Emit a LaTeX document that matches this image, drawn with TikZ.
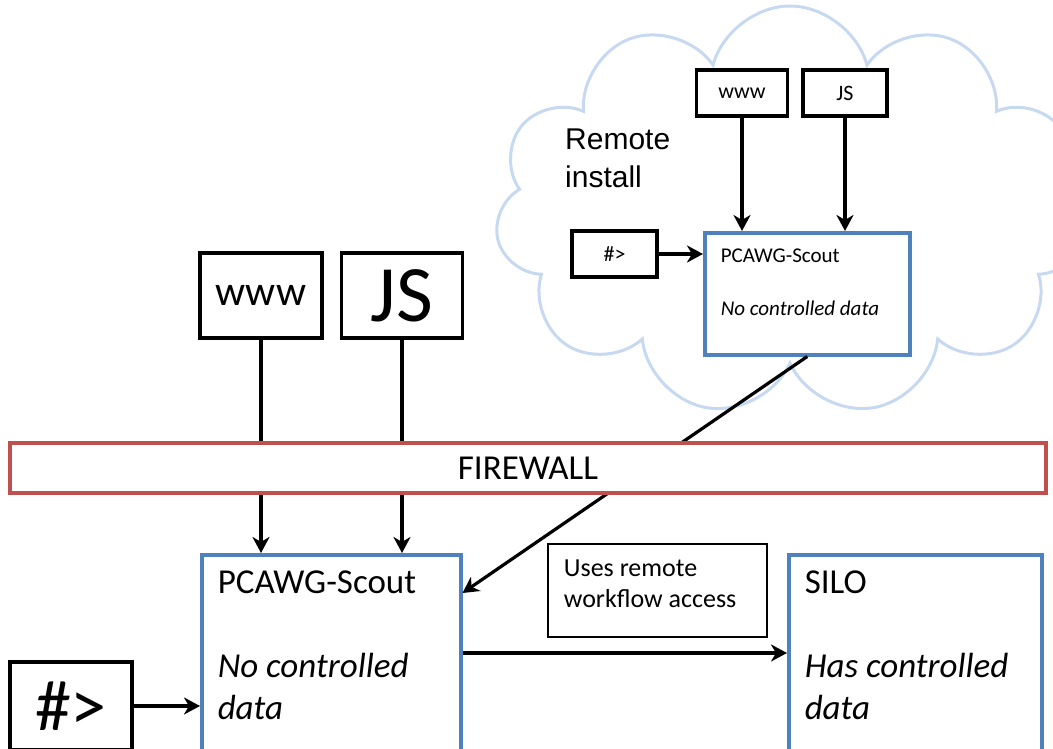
\documentclass[tikz,border=0pt]{standalone}
\usepackage{fontspec}
\setmainfont{Carlito}
\newfontfamily\arialfont{Liberation Sans}
\usetikzlibrary{positioning,arrows.meta,shapes.symbols}

\definecolor{boxblue}{RGB}{79,129,189}
\definecolor{wallred}{RGB}{192,80,77}
\definecolor{cloudblue}{RGB}{198,217,241}

\newcommand{\fs}[2]{\fontsize{#1}{#2}\selectfont}

\begin{document}
\begin{tikzpicture}[x=1pt, y=-1pt,
    plain/.style = {draw, line width=3.5pt, fill=white, inner sep=0pt},
    scout/.style = {draw=boxblue, line width=3.5pt, fill=white, inner sep=16pt, anchor=north west},
    arr/.style = {line width=3.2pt, -{Stealth[length=16pt, width=17pt, inset=5pt]}}]
    \useasboundingbox (0,0) rectangle (1053,749);

    % remote side
    \node[cloud, draw=cloudblue, line width=3pt, cloud puffs=11, aspect=1.45,
          minimum width=590pt, minimum height=410pt] (sky) at (790,211) {};
    \node[anchor=west, inner sep=0pt, align=left, font=\arialfont\fs{30}{38}] (remote) at (565,158) {Remote\\install};
    \node[plain, minimum width=91pt, minimum height=46pt, font=\fs{22}{26}] (rwww) at (742,93) {www};
    \node[plain, minimum width=84pt, minimum height=46pt, font=\fs{22}{26}, right=12pt of rwww] (rjs) {JS};
    \node[plain, minimum width=85pt, minimum height=46pt, font=\fs{22}{26}] (rhash) at (614.5,254) {\#>};
    \node[scout] (rscout) at (703,231)
        {\parbox[t][90pt][t]{173pt}{\raggedright\fs{21}{26.5}PCAWG-Scout\\[26.5pt]\textit{No controlled data}}};
    \draw[arr] (rwww) -- (rwww |- rscout.north);
    \draw[arr] (rjs) -- (rjs |- rscout.north);
    \draw[arr] (rhash) -- (rhash -| rscout.west);

    % local side
    \node[plain, minimum width=122pt, minimum height=85pt, font=\fs{42}{50}] (www) at (261,295.5) {www};
    \node[plain, minimum width=121pt, minimum height=85pt, font=\fs{80}{90}, right=16pt of www] (js) {JS};
    \node[plain, minimum width=122pt, minimum height=88pt, font=\fs{72}{80}] (lhash) at (71,706) {\#>};
    \node[scout] (lscout) at (200,553)
        {\parbox[t][200pt][t]{227pt}{\raggedright\fs{35}{42}PCAWG-Scout\\[42pt]\textit{No controlled data}}};
    \node[scout] (silo) at (787,553)
        {\parbox[t][200pt][t]{221pt}{\raggedright\fs{35}{42}SILO\\[42pt]\textit{Has controlled data}}};
    \node[draw, line width=1.8pt, inner sep=16pt, anchor=north west] (note) at (547,543)
        {\parbox[t][61pt][t]{187pt}{\raggedright\fs{26}{31}Uses remote\\workflow access}};

    \draw[arr] (www) -- (www |- lscout.north);
    \draw[arr] (js) -- (js |- lscout.north);
    \draw[arr] (lhash) -- (lhash -| lscout.west);
    \draw[arr] (rscout.south) -- ([yshift=-40pt]lscout.north east);
    \draw[arr] ([yshift=-100pt]lscout.north east) -- ([yshift=-100pt]silo.north west);

    % firewall on top of the lines
    \node[draw=wallred, line width=3.5pt, fill=white, minimum width=1036pt, minimum height=50pt,
          inner sep=0pt, font=\fs{35}{42}] (wall) at (528,468) {FIREWALL};
\end{tikzpicture}
\end{document}
